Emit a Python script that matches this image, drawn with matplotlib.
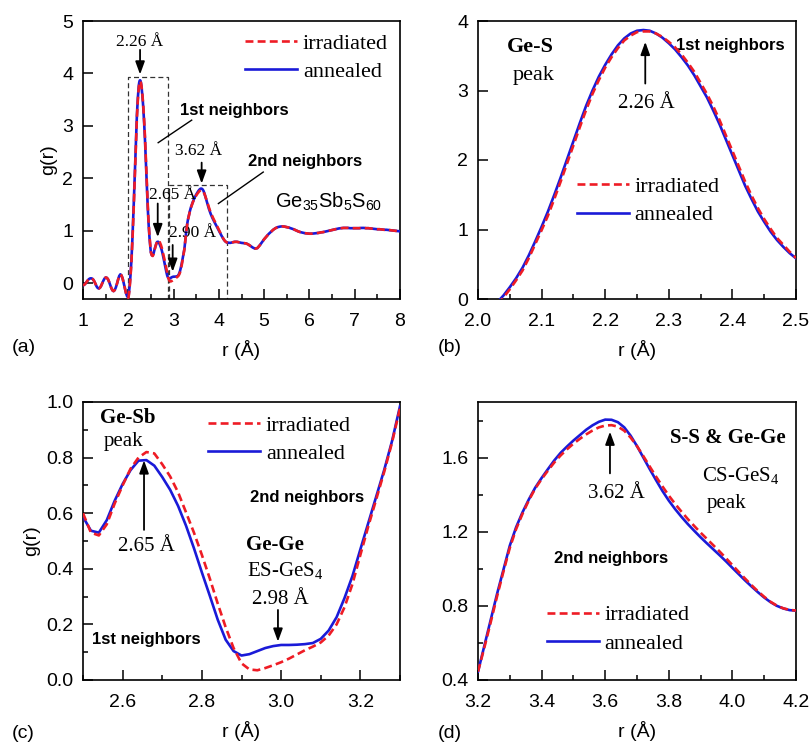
import numpy as np
import matplotlib
matplotlib.use("Agg")
import matplotlib.pyplot as plt
from matplotlib.ticker import MultipleLocator, FormatStrFormatter

plt.rcParams['font.family'] = ['Liberation Sans', 'DejaVu Sans']
plt.rcParams['mathtext.fontset'] = 'custom'
plt.rcParams['mathtext.rm'] = 'Liberation Serif'
plt.rcParams['mathtext.sf'] = 'Liberation Sans'

RED = '#ee1c25'
BLUE = '#1a1ad8'
SERIF = 'Liberation Serif'

# ---- g(r) data ----
# low-r ripples (both states overlap here)
r_lo = np.round(np.arange(1.0, 1.976, 0.025), 3)
g_lo = np.array([-0.04, -0.03, -0.01, 0.02, 0.05, 0.075, 0.09, 0.095, 0.09, 0.07,
                 0.035, -0.01, -0.06, -0.09, -0.10, -0.085, -0.05, 0.00, 0.05, 0.09,
                 0.11, 0.105, 0.08, 0.03, -0.03, -0.09, -0.135, -0.15, -0.13, -0.08,
                 -0.01, 0.07, 0.14, 0.17, 0.15, 0.09, 0.00, -0.10, -0.19, -0.25])

# Ge-S first peak
r_b = np.round(np.arange(2.00, 2.501, 0.01), 2)
ann_b = np.array([-0.27, -0.22, -0.14, -0.05, 0.05, 0.17, 0.30, 0.45, 0.63, 0.83,
                  1.04, 1.26, 1.50, 1.75, 2.01, 2.27, 2.53, 2.78, 3.00, 3.20,
                  3.37, 3.52, 3.65, 3.75, 3.82, 3.86, 3.87, 3.86, 3.82, 3.76,
                  3.68, 3.59, 3.48, 3.36, 3.22, 3.06, 2.90, 2.71, 2.51, 2.29,
                  2.07, 1.85, 1.63, 1.44, 1.26, 1.11, 0.97, 0.85, 0.75, 0.66,
                  0.585])
irr_b = np.array([-0.28, -0.24, -0.17, -0.08, 0.02, 0.14, 0.27, 0.41, 0.59, 0.79,
                  0.99, 1.20, 1.44, 1.69, 1.95, 2.21, 2.47, 2.72, 2.95, 3.15,
                  3.33, 3.48, 3.61, 3.72, 3.79, 3.84, 3.85, 3.85, 3.82, 3.77,
                  3.70, 3.62, 3.52, 3.40, 3.27, 3.11, 2.95, 2.77, 2.57, 2.35,
                  2.13, 1.91, 1.69, 1.49, 1.31, 1.15, 1.01, 0.88, 0.78, 0.68,
                  0.59])

# Ge-Sb / Ge-Ge region
r_c = np.round(np.arange(2.50, 3.301, 0.02), 2)
ann_c = np.array([0.587, 0.537, 0.530, 0.575, 0.645, 0.705, 0.755, 0.789, 0.791, 0.771,
                  0.730, 0.684, 0.626, 0.555, 0.474, 0.387, 0.303, 0.217, 0.145, 0.104,
                  0.088, 0.093, 0.104, 0.115, 0.122, 0.126, 0.126, 0.127, 0.129, 0.133,
                  0.148, 0.178, 0.226, 0.295, 0.374, 0.470, 0.565, 0.660, 0.755, 0.860,
                  0.985])
irr_c = np.array([0.600, 0.530, 0.520, 0.560, 0.635, 0.700, 0.760, 0.800, 0.820, 0.815,
                  0.776, 0.732, 0.675, 0.603, 0.530, 0.450, 0.365, 0.275, 0.190, 0.115,
                  0.060, 0.038, 0.035, 0.043, 0.053, 0.064, 0.077, 0.092, 0.107, 0.120,
                  0.135, 0.160, 0.200, 0.262, 0.345, 0.450, 0.553, 0.650, 0.748, 0.855,
                  0.978])

# second-neighbour peak
r_d = np.round(np.arange(3.20, 4.201, 0.02), 2)
ann_d = np.array([0.445, 0.585, 0.725, 0.865, 0.995, 1.125, 1.225, 1.305, 1.375, 1.438,
                  1.490, 1.538, 1.585, 1.626, 1.660, 1.692, 1.721, 1.750, 1.774, 1.793,
                  1.805, 1.804, 1.791, 1.763, 1.718, 1.662, 1.600, 1.538, 1.478, 1.420,
                  1.368, 1.322, 1.280, 1.241, 1.205, 1.170, 1.137, 1.105, 1.073, 1.040,
                  1.005, 0.971, 0.937, 0.905, 0.874, 0.845, 0.820, 0.800, 0.786, 0.777,
                  0.774])
irr_d = np.array([0.445, 0.575, 0.712, 0.852, 0.985, 1.113, 1.215, 1.297, 1.370, 1.433,
                  1.484, 1.530, 1.574, 1.612, 1.645, 1.675, 1.701, 1.725, 1.746, 1.763,
                  1.773, 1.775, 1.767, 1.745, 1.708, 1.662, 1.608, 1.552, 1.497, 1.445,
                  1.395, 1.350, 1.308, 1.268, 1.231, 1.195, 1.161, 1.127, 1.093, 1.057,
                  1.020, 0.983, 0.947, 0.912, 0.879, 0.849, 0.822, 0.801, 0.787, 0.778,
                  0.775])

# long-range tail (both states overlap here)
r_hi = np.round(np.arange(4.25, 8.001, 0.05), 2)
g_hi = np.array([0.77, 0.78, 0.79, 0.79, 0.78, 0.77, 0.765, 0.76, 0.74, 0.71,
                 0.68, 0.66, 0.67, 0.72, 0.78, 0.84, 0.89, 0.94, 0.98, 1.02,
                 1.05, 1.07, 1.08, 1.085, 1.08, 1.07, 1.06, 1.045, 1.03, 1.01,
                 0.99, 0.975, 0.965, 0.955, 0.95, 0.945, 0.945, 0.95, 0.955, 0.96,
                 0.97, 0.975, 0.985, 0.995, 1.005, 1.015, 1.025, 1.035, 1.045, 1.05,
                 1.055, 1.055, 1.055, 1.05, 1.05, 1.05, 1.05, 1.05, 1.055, 1.055,
                 1.05, 1.05, 1.045, 1.04, 1.035, 1.03, 1.03, 1.025, 1.02, 1.02,
                 1.015, 1.01, 1.005, 1.0, 0.995, 0.99])

# full curve for the overview panel
mc = (r_c > 2.505) & (r_c < 3.25)
md = r_d > 3.27
r_all = np.concatenate([r_lo, r_b, r_c[mc], r_d[md], r_hi])
ann_all = np.concatenate([g_lo, ann_b, ann_c[mc], ann_d[md], g_hi])
irr_all = np.concatenate([g_lo, irr_b, irr_c[mc], irr_d[md], g_hi])


def draw_curves(ax, r, irr, ann):
    ax.plot(r, ann, color=BLUE, lw=1.9, label='annealed', zorder=3)
    ax.plot(r, irr, color=RED, lw=1.9, dashes=(3.0, 1.6), label='irradiated', zorder=4)
    h, l = ax.get_legend_handles_labels()
    return [h[1], h[0]], [l[1], l[0]]


def style(ax):
    for s in ax.spines.values():
        s.set_linewidth(1.2)
    ax.tick_params(which='both', direction='in', top=False, right=False,
                   labelsize=14, width=1.1)
    ax.tick_params(which='major', length=7)
    ax.tick_params(which='minor', length=3.5)
    ax.tick_params(axis='x', pad=10)
    ax.tick_params(axis='y', pad=7)


def legend(ax, handles, labels, x, y):
    ax.legend(handles, labels, loc='upper left', bbox_to_anchor=(x, y),
              frameon=False, borderpad=0, borderaxespad=0, handlelength=2.35,
              handletextpad=0.25, labelspacing=0.34,
              prop={'family': SERIF, 'size': 16})


def arrow(ax, x, y0, y1):
    ax.annotate('', xy=(x, y1), xytext=(x, y0),
                arrowprops=dict(arrowstyle='-|>,head_length=0.55,head_width=0.2',
                                color='k', lw=1.3, mutation_scale=14,
                                shrinkA=0, shrinkB=0))


fig = plt.figure(figsize=(8.1, 7.42), dpi=100)
W, H = 810, 742
def box(x0, y0, x1, y1):
    return [x0 / W, 1 - y1 / H, (x1 - x0) / W, (y1 - y0) / H]

ax_a = fig.add_axes(box(83, 21, 400, 299))
ax_b = fig.add_axes(box(478, 21, 796, 299))
ax_c = fig.add_axes(box(83, 402, 400, 680))
ax_d = fig.add_axes(box(478, 402, 796, 680))

# (a) overview
h, l = draw_curves(ax_a, r_all, irr_all, ann_all)
ax_a.set_xlim(1, 8)
ax_a.set_ylim(-0.3, 5)
ax_a.xaxis.set_major_locator(MultipleLocator(1))
ax_a.xaxis.set_minor_locator(MultipleLocator(0.5))
ax_a.yaxis.set_major_locator(MultipleLocator(1))
style(ax_a)
legend(ax_a, h, l, 0.511, 0.955)
box_kw = dict(color='#333333', lw=0.9, dashes=(4, 2.5), zorder=2)
ax_a.plot([2.0, 2.0, 2.87, 2.87], [-0.3, 3.93, 3.93, -0.3], **box_kw)
ax_a.plot([2.90, 2.90, 4.19, 4.19], [-0.3, 1.88, 1.88, -0.3], **box_kw)
ax_a.plot([2.66, 3.40], [2.68, 3.11], color='k', lw=1.0)
ax_a.plot([3.99, 4.98], [1.52, 2.12], color='k', lw=1.0)
ax_a.text(3.14, 3.30, '1st neighbors', fontsize=12, fontweight='bold', va='center')
ax_a.text(4.65, 2.33, '2nd neighbors', fontsize=12, fontweight='bold', va='center')
ax_a.text(2.26, 4.60, '2.26 Å', family=SERIF, fontsize=12.5, ha='center', va='center')
arrow(ax_a, 2.26, 4.45, 3.98)
ax_a.text(3.56, 2.52, '3.62 Å', family=SERIF, fontsize=12.5, ha='center', va='center')
arrow(ax_a, 3.62, 2.30, 1.90)
ax_a.text(2.97, 1.68, '2.65 Å', family=SERIF, fontsize=12.5, ha='center', va='center')
arrow(ax_a, 2.65, 1.52, 0.88)
ax_a.text(3.42, 0.95, '2.90 Å', family=SERIF, fontsize=12.5, ha='center', va='center')
arrow(ax_a, 2.98, 0.73, 0.22)
ax_a.text(5.24, 1.55, r'$\mathsf{Ge_{35}Sb_{5}S_{60}}$', fontsize=14.5, va='center')
ax_a.set_ylabel('g(r)', fontsize=14, labelpad=4)
ax_a.set_xlabel('r (Å)', fontsize=14, labelpad=7)

# (b) Ge-S peak
h, l = draw_curves(ax_b, r_b, irr_b, ann_b)
ax_b.set_xlim(2.0, 2.5)
ax_b.set_ylim(0, 4)
ax_b.xaxis.set_major_locator(MultipleLocator(0.1))
ax_b.xaxis.set_minor_locator(MultipleLocator(0.05))
ax_b.xaxis.set_major_formatter(FormatStrFormatter('%.1f'))
ax_b.yaxis.set_major_locator(MultipleLocator(1))
style(ax_b)
legend(ax_b, h, l, 0.31, 0.44)
ax_b.text(2.083, 3.63, 'Ge-S', family=SERIF, fontsize=16, fontweight='bold',
          ha='center', va='center')
ax_b.text(2.087, 3.22, 'peak', family=SERIF, fontsize=16, ha='center', va='center')
ax_b.text(2.312, 3.65, '1st neighbors', fontsize=12, fontweight='bold', va='center')
arrow(ax_b, 2.263, 3.10, 3.70)
ax_b.text(2.265, 2.82, '2.26 Å', family=SERIF, fontsize=15, ha='center', va='center')
ax_b.set_xlabel('r (Å)', fontsize=14, labelpad=7)

# (c) Ge-Sb and Ge-Ge (edge-sharing) region
h, l = draw_curves(ax_c, r_c, irr_c, ann_c)
ax_c.set_xlim(2.5, 3.3)
ax_c.set_ylim(0, 1.0)
ax_c.xaxis.set_major_locator(MultipleLocator(0.2))
ax_c.xaxis.set_minor_locator(MultipleLocator(0.1))
ax_c.xaxis.set_major_formatter(FormatStrFormatter('%.1f'))
ax_c.yaxis.set_major_locator(MultipleLocator(0.2))
ax_c.yaxis.set_minor_locator(MultipleLocator(0.1))
ax_c.yaxis.set_major_formatter(FormatStrFormatter('%.1f'))
style(ax_c)
legend(ax_c, h, l, 0.395, 0.953)
ax_c.text(2.612, 0.941, 'Ge-Sb', family=SERIF, fontsize=15, fontweight='bold',
          ha='center', va='center')
ax_c.text(2.602, 0.857, 'peak', family=SERIF, fontsize=15, ha='center', va='center')
ax_c.text(2.922, 0.656, '2nd neighbors', fontsize=12, fontweight='bold', va='center')
arrow(ax_c, 2.654, 0.54, 0.79)
ax_c.text(2.661, 0.482, '2.65 Å', family=SERIF, fontsize=15, ha='center', va='center')
ax_c.text(2.985, 0.486, 'Ge-Ge', family=SERIF, fontsize=15, fontweight='bold',
          ha='center', va='center')
ax_c.text(2.913, 0.39, r'ES-GeS$_4$', family=SERIF, fontsize=15, va='center')
ax_c.text(2.997, 0.288, '2.98 Å', family=SERIF, fontsize=15, ha='center', va='center')
arrow(ax_c, 2.992, 0.252, 0.138)
ax_c.text(2.522, 0.146, '1st neighbors', fontsize=12, fontweight='bold', va='center')
ax_c.set_ylabel('g(r)', fontsize=14, labelpad=4)
ax_c.set_xlabel('r (Å)', fontsize=14, labelpad=7)

# (d) second-neighbour peak
h, l = draw_curves(ax_d, r_d, irr_d, ann_d)
ax_d.set_xlim(3.2, 4.2)
ax_d.set_ylim(0.4, 1.9)
ax_d.xaxis.set_major_locator(MultipleLocator(0.2))
ax_d.xaxis.set_minor_locator(MultipleLocator(0.1))
ax_d.xaxis.set_major_formatter(FormatStrFormatter('%.1f'))
ax_d.yaxis.set_major_locator(MultipleLocator(0.4))
ax_d.yaxis.set_minor_locator(MultipleLocator(0.2))
ax_d.yaxis.set_major_formatter(FormatStrFormatter('%.1f'))
style(ax_d)
legend(ax_d, h, l, 0.216, 0.27)
ax_d.text(3.985, 1.704, 'S-S & Ge-Ge', family=SERIF, fontsize=15, fontweight='bold',
          ha='center', va='center')
ax_d.text(3.903, 1.50, r'CS-GeS$_4$', family=SERIF, fontsize=15, va='center')
ax_d.text(3.982, 1.354, 'peak', family=SERIF, fontsize=15, ha='center', va='center')
arrow(ax_d, 3.615, 1.515, 1.74)
ax_d.text(3.634, 1.408, '3.62 Å', family=SERIF, fontsize=15, ha='center', va='center')
ax_d.text(3.617, 1.057, '2nd neighbors', fontsize=12, fontweight='bold',
          ha='center', va='center')
ax_d.set_xlabel('r (Å)', fontsize=14, labelpad=7)

# panel letters
fig.text(12 / W, 1 - 348 / H, '(a)', fontsize=14, va='center')
fig.text(438 / W, 1 - 348 / H, '(b)', fontsize=14, va='center')
fig.text(12 / W, 1 - 733 / H, '(c)', fontsize=14, va='center')
fig.text(438 / W, 1 - 733 / H, '(d)', fontsize=14, va='center')

fig.savefig('out.png', dpi=100)
